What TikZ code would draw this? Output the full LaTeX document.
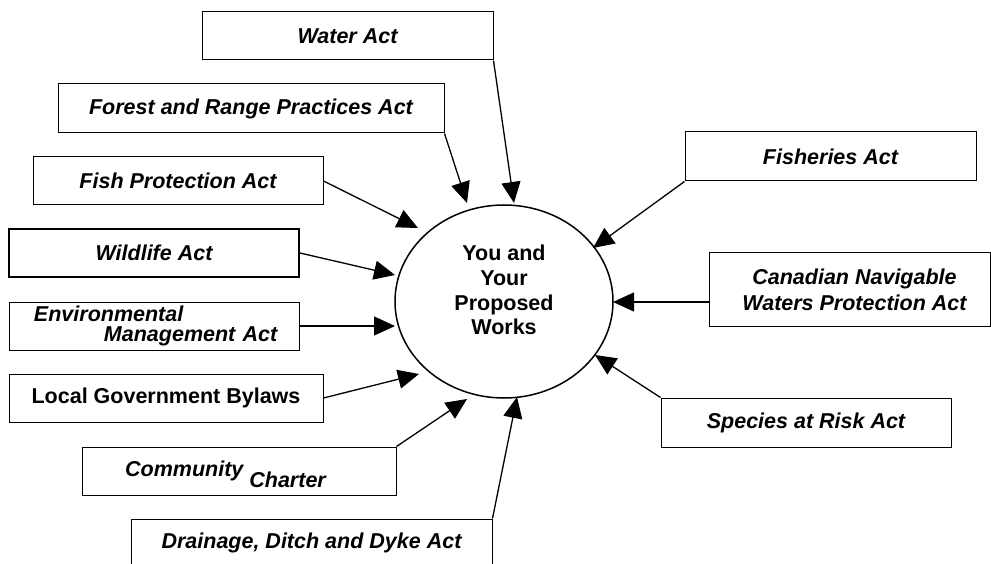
\documentclass[tikz,border=0pt]{standalone}
\usepackage{fontspec}
\setmainfont{Liberation Sans}
\usetikzlibrary{arrows.meta,shapes.geometric}
\tikzset{
  box/.style={draw, line width=1pt, rectangle, inner sep=0pt, minimum height=48pt,
    font=\fontsize{21.5}{26}\selectfont\bfseries\itshape, align=center},
  conn/.style={line width=1.3pt, -{Triangle[length=21pt,width=19pt]}},
}
\begin{document}
\begin{tikzpicture}[x=1pt,y=-1pt]
\useasboundingbox (0,0) rectangle (991,564);
% centre
\node[ellipse, draw, line width=1.5pt, minimum width=218pt, minimum height=193pt, inner sep=0pt] (circ) at (504,301.5) {};
\node[font=\fontsize{21.5}{24.7}\selectfont\bfseries, align=center, inner sep=0pt] (circtext) at (504,290) {You and\\Your\\Proposed\\Works};
% boxes
\node[box, minimum width=291pt] (water) at (347.5,36) {Water Act};
\node[box, minimum width=386pt, minimum height=49pt] (forest) at (251,108.5) {Forest and Range Practices Act};
\node[box, minimum width=290pt] (fishprot) at (178,181) {Fish Protection Act};
\node[box, minimum width=290pt, line width=2pt] (wildlife) at (154,253) {Wildlife Act};
\node[box, text width=290pt, align=left, font=\fontsize{21.5}{20}\selectfont\bfseries\itshape] (env) at (154,326) {\hspace*{25pt}Environmental\\\hspace*{95pt}Management Act};
\node[box, minimum width=314pt, font=\fontsize{21.5}{26}\selectfont\bfseries] (localgov) at (166,398) {Local Government Bylaws};
\node[box, minimum width=314pt] (community) at (239,471) {Community \raisebox{-11pt}[0pt][0pt]{Charter}\hspace*{27pt}};
\node[box, minimum width=361pt] (drainage) at (311.5,543) {Drainage, Ditch and Dyke Act};
\node[box, minimum width=291pt, minimum height=49pt] (fisheries) at (830.5,156.5) {Fisheries Act};
\node[box, minimum width=281pt, minimum height=73pt] (canada) at (849.5,289.5) {\hspace*{10pt}Canadian Navigable\\\hspace*{10pt}Waters Protection Act};
\node[box, minimum width=290pt, minimum height=49pt] (species) at (806,422.5) {Species at Risk Act};
% arrow tips
\coordinate (tWater) at (514,203);
\coordinate (tForest) at (467,203);
\coordinate (tFish) at (418,228);
\coordinate (tWild) at (395,275);
\coordinate (tEnv) at (395,326);
\coordinate (tLocal) at (419,374);
\coordinate (tComm) at (467,399);
\coordinate (tDrain) at (517,397);
\coordinate (tFisheries) at (593,248);
\coordinate (tCanada) at (613,302);
\coordinate (tSpecies) at (595,355);
% connectors
\draw[conn] (water.south east) -- (tWater);
\draw[conn] (forest.south east) -- (tForest);
\draw[conn] (fishprot.east) -- (tFish);
\draw[conn] (wildlife.east) -- (tWild);
\draw[conn] (env.east) -- (tEnv);
\draw[conn] (localgov.east) -- (tLocal);
\draw[conn] (community.north east) -- (tComm);
\draw[conn] (drainage.north east) -- (tDrain);
\draw[conn] (fisheries.south west) -- (tFisheries);
\draw[conn] ([yshift=-12.5pt]canada.west) -- (tCanada);
\draw[conn] (species.north west) -- (tSpecies);
\end{tikzpicture}
\end{document}
